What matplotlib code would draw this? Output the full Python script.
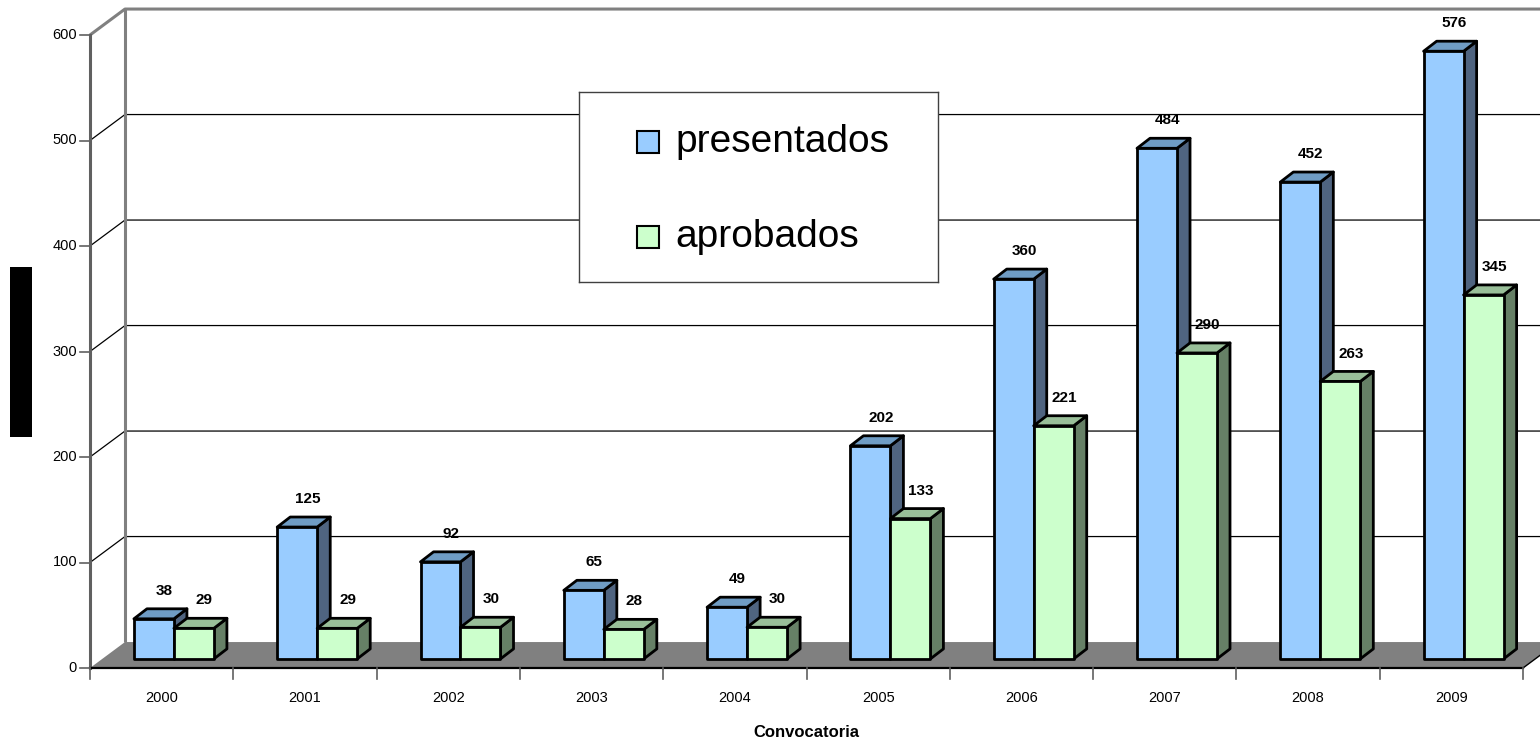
import matplotlib
matplotlib.use("Agg")
import matplotlib.pyplot as plt
from matplotlib.patches import Polygon, Rectangle

plt.rcParams['font.family'] = ['Liberation Sans', 'DejaVu Sans']

# data
years = ['2000', '2001', '2002', '2003', '2004', '2005', '2006', '2007', '2008', '2009']
presentados = [38, 125, 92, 65, 49, 202, 360, 484, 452, 576]
aprobados = [29, 29, 30, 28, 30, 133, 221, 290, 263, 345]
yticks = [0, 100, 200, 300, 400, 500, 600]

# 3d look (data units: x in categories, y in values)
DX, DY = 0.244, 24.6        # depth of the floor / walls
F0 = 0.35                   # bars start this far into the depth
BDX, BDY = 0.091, 9.5       # depth of one bar
BW = 0.279                  # bar width
GAP = 0.221

blue = ('#99ccff', '#6f9cc4', '#4f6480')
green = ('#ccffcc', '#99bf99', '#668066')

fig = plt.figure(figsize=(15.4, 7.38), dpi=100)
ax = fig.add_axes([90 / 1540, 70 / 738, 1433 / 1540, 633 / 738])
ax.set_xlim(0, len(years))
ax.set_ylim(0, 600)
ax.axis('off')

n = len(years)

# floor
ax.add_patch(Polygon([(0, 0), (n, 0), (n + DX, DY), (DX, DY)], closed=True,
                     fc='#808080', ec='none', clip_on=False, zorder=1))
ax.plot([n, n + DX], [0, DY], color='black', lw=1, clip_on=False, zorder=2)

# gridlines on side and back wall
for v in yticks[1:-1]:
    ax.plot([0, DX, n + DX], [v, v + DY, v + DY], color='black', lw=0.9,
            clip_on=False, zorder=1)

# walls
wall = dict(color='#808080', lw=2.2, clip_on=False, zorder=1, solid_capstyle='butt')
ax.plot([DX, DX], [DY, 600 + DY], **wall)
ax.plot([0, DX, n + DX], [600, 600 + DY, 600 + DY], **wall)
ax.plot([0, 0], [0, 600], color='#606060', lw=2.2, clip_on=False, zorder=2)

# axes lines and ticks
ax.plot([0, n], [0, 0], color='black', lw=1.6, clip_on=False, zorder=2)
for i in range(n + 1):
    ax.plot([i, i], [0, -10], color='#606060', lw=1.2, clip_on=False, zorder=2)
for v in yticks:
    ax.plot([-0.07, 0], [v, v], color='#606060', lw=1.2, clip_on=False, zorder=2)
    ax.text(-0.09, v, str(v), ha='right', va='center', fontsize=10.5)
for i, y in enumerate(years):
    ax.text(i + 0.5, -28, y, ha='center', va='center', fontsize=10.5)

ax.text(n / 2, -61, 'Convocatoria', ha='center', va='center', fontsize=12,
        fontweight='bold')


def bar3d(x0, y0, h, cols, z):
    front, top, side = cols
    kw = dict(ec='black', lw=2, joinstyle='round', clip_on=False, zorder=z)
    ax.add_patch(Polygon([(x0 + BW, y0), (x0 + BW + BDX, y0 + BDY),
                          (x0 + BW + BDX, y0 + h + BDY), (x0 + BW, y0 + h)],
                         closed=True, fc=side, **kw))
    ax.add_patch(Polygon([(x0, y0 + h), (x0 + BW, y0 + h),
                          (x0 + BW + BDX, y0 + h + BDY), (x0 + BDX, y0 + h + BDY)],
                         closed=True, fc=top, **kw))
    ax.add_patch(Rectangle((x0, y0), BW, h, fc=front, **kw))
    ax.annotate(str(h), (x0 + BW / 2 + BDX * 0.8, y0 + h + BDY), xytext=(0, 10),
                textcoords='offset points', ha='center', va='baseline',
                fontsize=11, fontweight='bold', zorder=20)


y0 = F0 * DY
for i in range(n):
    x0 = i + GAP + F0 * DX
    bar3d(x0, y0, presentados[i], blue, 5 + 2 * i)
    bar3d(x0 + BW, y0, aprobados[i], green, 6 + 2 * i)

# legend box
lg = fig.add_axes([579 / 1540, 1 - 282 / 738, 359 / 1540, 190 / 738])
lg.set_xticks([])
lg.set_yticks([])
for s in lg.spines.values():
    s.set_color('#404040')
    s.set_linewidth(1)
lg.set_xlim(0, 359)
lg.set_ylim(190, 0)
lg.set_zorder(30)
for k, (name, col) in enumerate([('presentados', blue[0]), ('aprobados', green[0])]):
    yc = 50 + k * 95
    lg.add_patch(Rectangle((58, yc - 11), 22, 22, fc=col, ec='black', lw=1.5))
    lg.text(96, yc, name, ha='left', va='center', fontsize=28)

# y axis title (rendered as a black block in the original)
fig.patches.append(Rectangle((10 / 1540, 1 - 437 / 738), 22 / 1540, 170 / 738,
                             transform=fig.transFigure, fc='black', ec='none'))

fig.savefig('out.png', dpi=100)
